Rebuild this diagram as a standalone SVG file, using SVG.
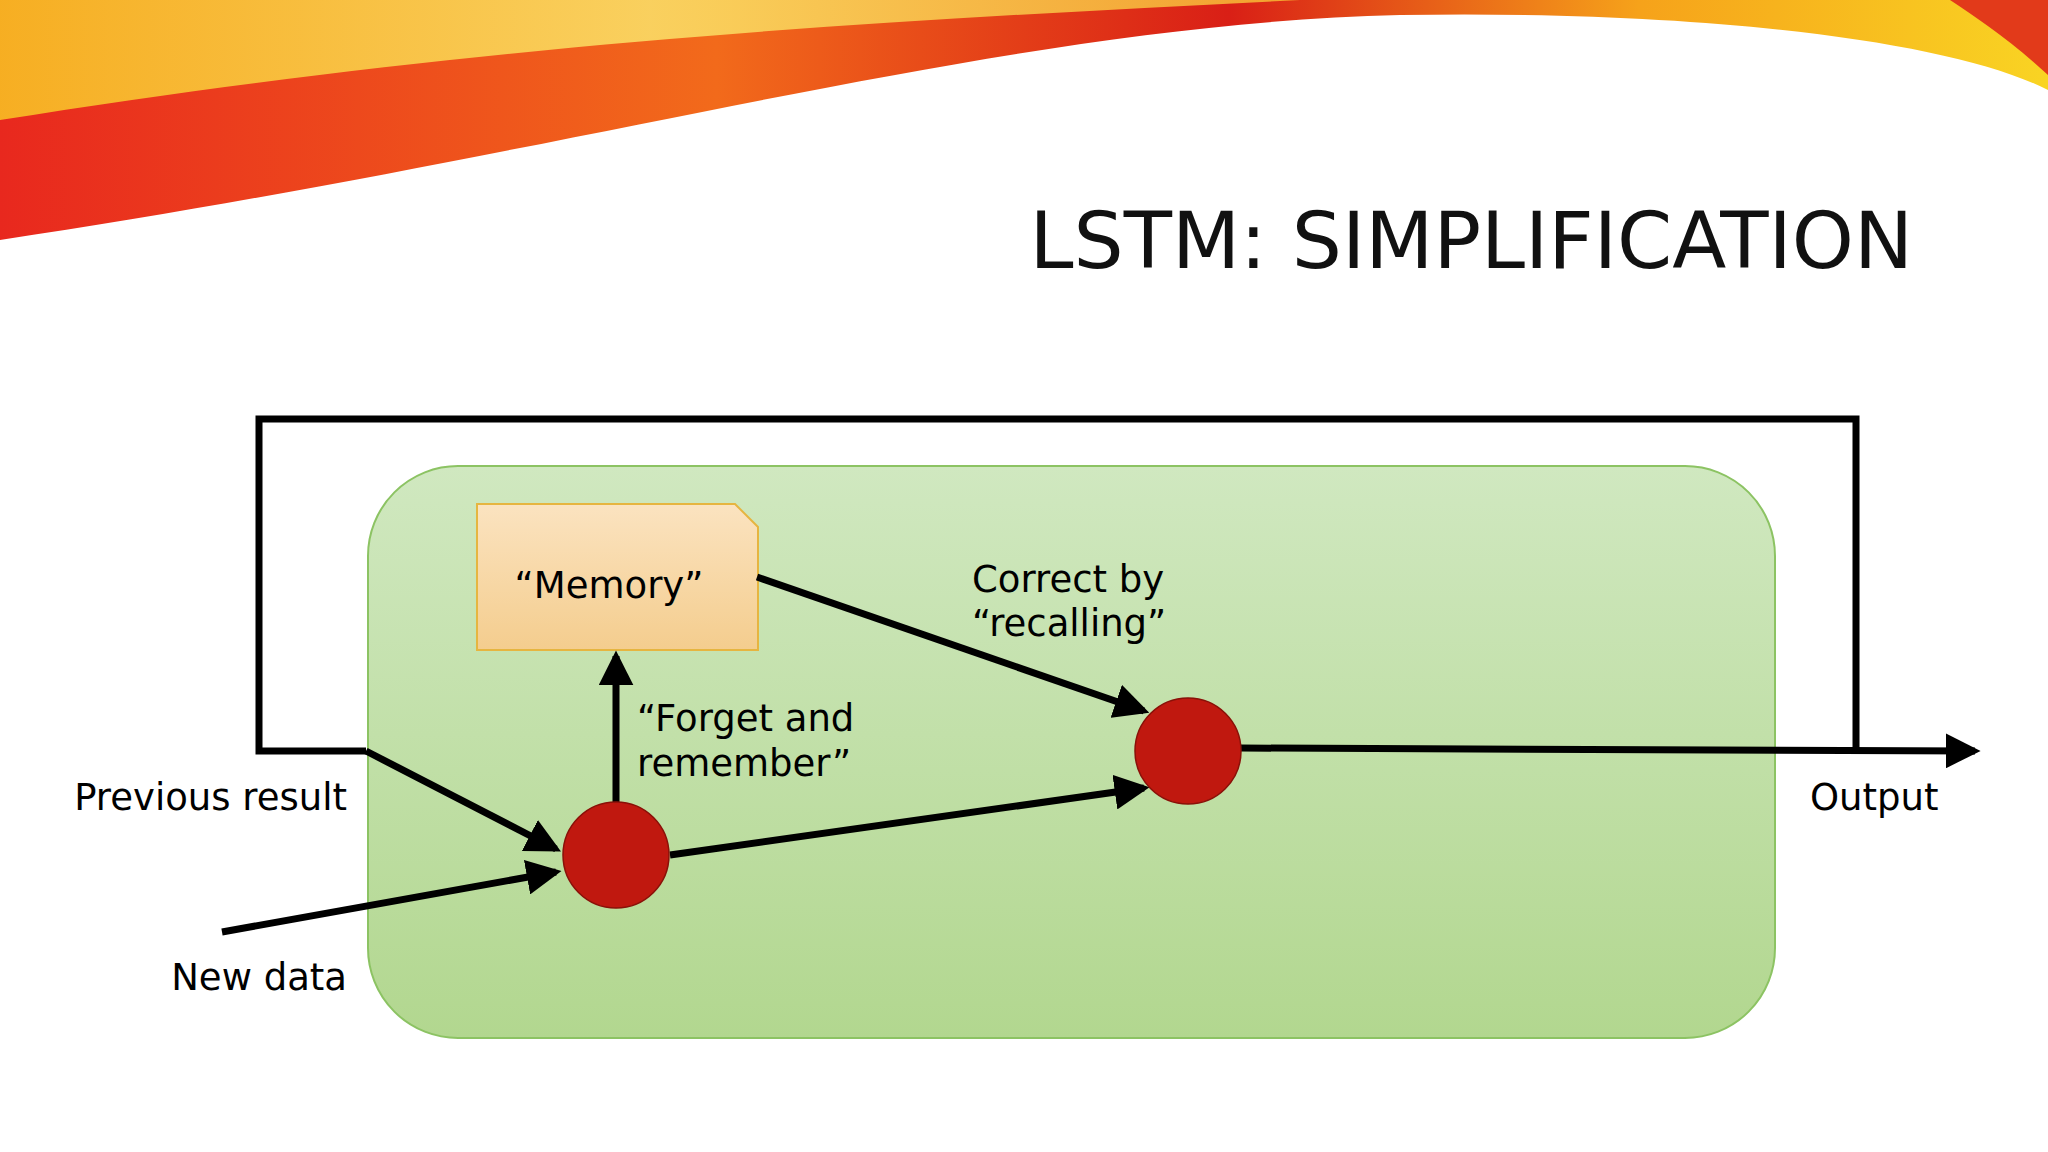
<svg xmlns="http://www.w3.org/2000/svg" width="2048" height="1152" viewBox="0 0 2048 1152">
<defs>
<linearGradient id="sw" x1="0" y1="0" x2="1" y2="0"><stop offset="0" stop-color="#e8281e"/><stop offset="0.35" stop-color="#f26a1b"/><stop offset="0.6" stop-color="#d91f16"/><stop offset="0.8" stop-color="#f6a21a"/><stop offset="1" stop-color="#f9d423"/></linearGradient>
<linearGradient id="sw2" x1="0" y1="0" x2="1" y2="0"><stop offset="0" stop-color="#f9c623"/><stop offset="0.5" stop-color="#fbe36a"/><stop offset="1" stop-color="#f7b733"/></linearGradient>
<linearGradient id="gb" x1="0" y1="0" x2="0" y2="1"><stop offset="0" stop-color="#d0e8c0"/><stop offset="1" stop-color="#b2d78f"/></linearGradient>
<linearGradient id="mb" x1="0" y1="0" x2="0" y2="1"><stop offset="0" stop-color="#fbe3c0"/><stop offset="1" stop-color="#f4cd8e"/></linearGradient>
<marker id="ah" markerWidth="5" markerHeight="5" refX="4.2" refY="2.5" orient="auto" markerUnits="strokeWidth"><path d="M0,0 L5,2.5 L0,5 z" fill="#000"/></marker>
<style>
.ln{stroke:#000;stroke-width:7;fill:none}
.lbl{font-family:"DejaVu Sans",sans-serif;font-size:37px;fill:#000}
.gate{fill:#c0180f;stroke:#8a1008;stroke-width:1.5}
</style>
</defs>
<path d="M0,0 L2048,0 L2048,90 C1950,40 1700,10 1400,15 C1000,25 600,150 0,240 Z" fill="url(#sw)"/>
<path d="M0,0 L1300,0 C900,20 500,40 0,120 Z" fill="url(#sw2)" opacity="0.85"/>
<path d="M1950,0 L2048,0 L2048,75 C2010,40 1980,20 1950,0 Z" fill="#e23a1a"/>
<text x="1913" y="268" text-anchor="end" font-family="DejaVu Sans,sans-serif" font-size="79" fill="#111">LSTM: SIMPLIFICATION</text>
<g id="box"><rect x="368" y="466" width="1407" height="572" rx="90" fill="url(#gb)" stroke="#8cc363" stroke-width="2"/></g>
<g id="memory"><path d="M477,504 L735,504 L758,527 L758,650 L477,650 Z" fill="url(#mb)" stroke="#e6b540" stroke-width="2"/><text x="609" y="598" text-anchor="middle" class="lbl">“Memory”</text></g>
<g id="connectors">
<polyline class="ln" points="366,751 259,751 259,419 1856,419 1856,751"/>
<line class="ln" x1="366" y1="751" x2="556" y2="849" marker-end="url(#ah)"/>
<line class="ln" x1="222" y1="932" x2="556" y2="872" marker-end="url(#ah)"/>
<line class="ln" x1="616" y1="802" x2="616" y2="656" marker-end="url(#ah)"/>
<line class="ln" x1="757" y1="577" x2="1144" y2="711" marker-end="url(#ah)"/>
<line class="ln" x1="670" y1="855" x2="1144" y2="788" marker-end="url(#ah)"/>
<line class="ln" x1="1241" y1="748" x2="1975" y2="751" marker-end="url(#ah)"/>
</g>
<g id="gate1"><circle class="gate" cx="616" cy="855" r="53"/></g>
<g id="gate2"><circle class="gate" cx="1188" cy="751" r="53"/></g>
<text class="lbl" x="347" y="810" text-anchor="end">Previous result</text>
<text class="lbl" x="347" y="990" text-anchor="end">New data</text>
<text class="lbl" x="1810" y="810">Output</text>
<text class="lbl" x="637" y="731">“Forget and</text>
<text class="lbl" x="637" y="776">remember”</text>
<text class="lbl" x="972" y="592">Correct by</text>
<text class="lbl" x="972" y="636">“recalling”</text>
</svg>
